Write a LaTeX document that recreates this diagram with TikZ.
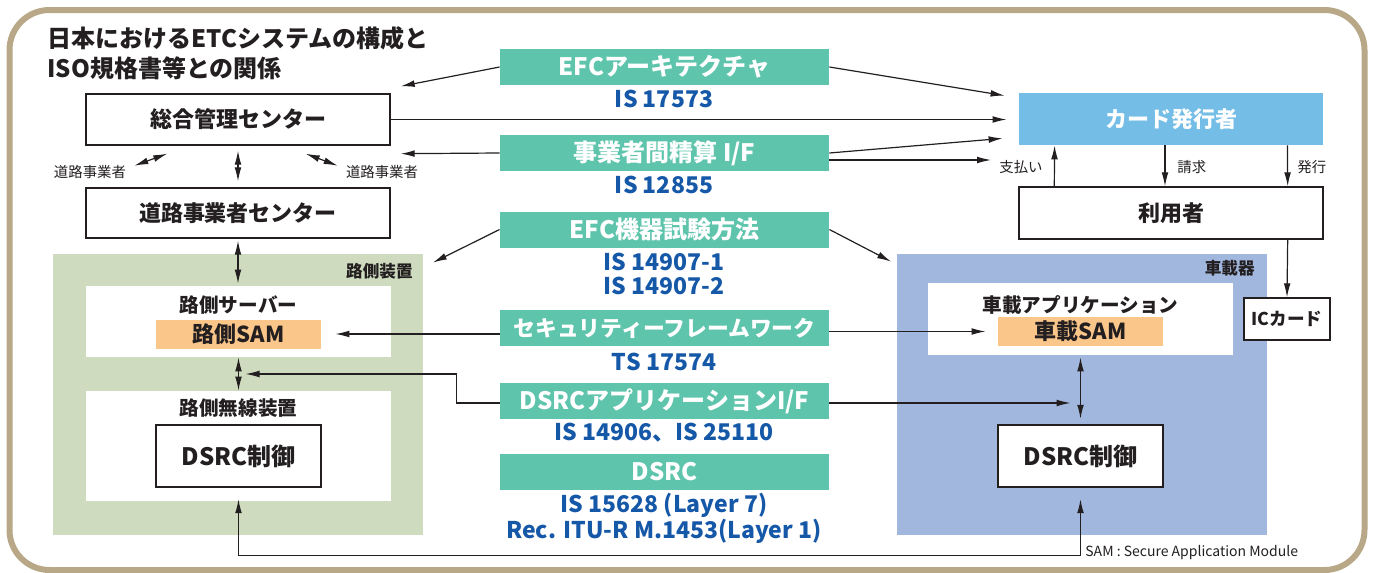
\documentclass[tikz,border=0pt]{standalone}
\usepackage{fontspec}
\usepackage{xcolor}
\usepackage{tikz}
\usetikzlibrary{arrows.meta,calc}
\setmainfont{Noto Sans CJK JP}

\definecolor{frametan}{RGB}{184,168,136}
\definecolor{stdgreen}{RGB}{94,196,172}
\definecolor{stdblue}{RGB}{22,88,168}
\definecolor{issuerblue}{RGB}{116,189,230}
\definecolor{roadgreen}{RGB}{206,219,190}
\definecolor{carblue}{RGB}{162,183,222}
\definecolor{samorange}{RGB}{251,198,138}
\definecolor{ink}{RGB}{35,31,32}

\tikzset{
  arr/.style={-{Latex[length=7pt,width=3.4pt]},line width=0.6pt,draw=ink},
  arrboth/.style={{Latex[length=7pt,width=3.4pt]}-{Latex[length=7pt,width=3.4pt]},line width=0.6pt,draw=ink},
  mainbox/.style={draw=ink,line width=0.7pt,fill=white,inner sep=0pt,text=ink,font=\bfseries\fontsize{11}{13}\selectfont},
  areabox/.style={inner sep=0pt,minimum width=185pt,minimum height=140.5pt},
  innerbox/.style={fill=white,inner sep=0pt,minimum width=152.5pt},
  sambox/.style={fill=samorange,inner sep=0pt,minimum width=82.5pt,minimum height=14.5pt,text=ink,font=\bfseries\fontsize{11}{13}\selectfont},
  dsrcbox/.style={draw=ink,line width=1.2pt,fill=white,inner sep=0pt,minimum width=82.5pt,minimum height=31pt,text=ink,font=\bfseries\fontsize{12}{14}\selectfont},
  stdbox/.style={fill=stdgreen,inner sep=0pt,minimum width=164.5pt,minimum height=18pt,text=white,font=\bfseries\fontsize{12}{14}\selectfont},
  stdtext/.style={text=stdblue,align=center,inner sep=0pt,font=\bfseries\fontsize{11.5}{12}\selectfont},
  boxlab/.style={inner sep=0pt,text=ink,font=\bfseries\fontsize{9.8}{12}\selectfont},
  arealab/.style={inner sep=0pt,text=ink,font=\bfseries\fontsize{8.3}{10}\selectfont},
  smalllab/.style={inner sep=0pt,text=ink,font=\fontsize{7.2}{9}\selectfont}
}

\begin{document}
\begin{tikzpicture}[x=0.5pt,y=0.5pt,yscale=-1,xscale=1]

\useasboundingbox (0,0) rectangle (1373,573);

\draw[frametan,line width=3pt,rounded corners=20pt] (9.5,10) rectangle (1364.5,570);

\node (title) [anchor=west,align=left,inner sep=0pt,text=ink,font=\bfseries\fontsize{12}{15}\selectfont] at (47,53) {日本におけるETCシステムの構成と\\ISO規格書等との関係};

\node (sogo) [mainbox,minimum width=152pt,minimum height=25.5pt] at (238,119.5) {総合管理センター};

\node (doro) [mainbox,minimum width=152pt,minimum height=25pt] at (238,213) {道路事業者センター};

\node (opleft) [smalllab] at (90,172) {道路事業者};

\node (opright) [smalllab] at (382,172) {道路事業者};

\node (roadside) [areabox,fill=roadgreen] at (237.5,394.5) {};

\node (roadsidelab) [arealab,anchor=east] at (413,271) {路側装置};

\node (server) [innerbox,minimum height=35.5pt] at (238.5,321.5) {};

\node (serverlab) [boxlab] at (238.5,305) {路側サーバー};

\node (rsam) [sambox] at (238.5,334) {路側SAM};

\node (radio) [innerbox,minimum height=55pt] at (238.5,446) {};

\node (radiolab) [boxlab] at (238.5,408) {路側無線装置};

\node (rdsrc) [dsrcbox] at (238.5,456) {DSRC制御};

\node (efcarch) [stdbox] at (664.5,67) {EFCアーキテクチャ};

\node (is17573) [stdtext] at (664,99) {IS 17573};

\node (settle) [stdbox] at (664.5,153) {事業者間精算 I/F};

\node (is12855) [stdtext] at (664,185) {IS 12855};

\node (testing) [stdbox] at (664.5,229.5) {EFC機器試験方法};

\node (is14907) [stdtext] at (664,274) {IS 14907-1\\IS 14907-2};

\node (security) [stdbox,font=\bfseries\fontsize{10.9}{13}\selectfont] at (664.5,328) {セキュリティーフレームワーク};

\node (ts17574) [stdtext] at (664,362) {TS 17574};

\node (dsrcapp) [stdbox] at (664.5,401) {DSRCアプリケーションI/F};

\node (is14906) [stdtext] at (664,433) {IS 14906、IS 25110};

\node (dsrcstd) [stdbox] at (664.5,472) {DSRC};

\node (is15628) [stdtext] at (664,518.5) {IS 15628 (Layer 7)\\Rec. ITU-R M.1453(Layer 1)};

\node (issuer) [fill=issuerblue,inner sep=0pt,minimum width=152pt,minimum height=26pt,text=white,font=\bfseries\fontsize{11}{13}\selectfont] at (1171,119) {カード発行者};

\node (user) [mainbox,minimum width=152pt,minimum height=26pt] at (1171,213) {利用者};

\node (paylab) [smalllab,anchor=east] at (1043,167) {支払い};

\node (billlab) [smalllab,anchor=west] at (1177,167) {請求};

\node (issuelab) [smalllab,anchor=west] at (1297,167) {発行};

\node (onboard) [areabox,fill=carblue] at (1081.5,394.5) {};

\node (onboardlab) [arealab,anchor=east] at (1255,268) {車載器};

\node (iccard) [mainbox,minimum width=43pt,minimum height=21pt,font=\bfseries\fontsize{8.8}{10}\selectfont] at (1287,319) {ICカード};

\node (vapp) [innerbox,minimum height=36pt] at (1080.5,319) {};

\node (vapplab) [boxlab] at (1080.5,305) {車載アプリケーション};

\node (vsam) [sambox] at (1080.5,331.5) {車載SAM};

\node (vdsrc) [dsrcbox] at (1080.5,456) {DSRC制御};

\node (samnote) [anchor=west,inner sep=0pt,text=ink,font=\fontsize{7}{8}\selectfont] at (1085,553) {SAM : Secure Application Module};

\draw[arrboth,shorten <=2.5pt,shorten >=3pt] (sogo.south) -- (doro.north);

\draw[arrboth] ($(sogo.south west)+(82,8)$) -- ($(sogo.south west)+(49,20)$);

\draw[arrboth] ($(sogo.south east)+(-85,8)$) -- ($(sogo.south east)+(-53,20)$);

\draw[arrboth,shorten <=1pt,shorten >=1pt] (doro.south) -- (doro.south |- server.north);

\draw[arrboth] (server.south) -- (radio.north);

\draw[arrboth,shorten <=1pt,shorten >=2.5pt] (vapp.south) -- (vdsrc.north);

\draw[arr] (efcarch.west) -- ($(sogo.north east)+(10,-7)$);

\draw[arr] (efcarch.east) -- ($(issuer.north west)+(-14,3)$);

\draw[arr,shorten >=6pt] (sogo.east) -- (sogo.east -| issuer.west);

\draw[arr] (settle.west) -- ($(sogo.south east)+(10,8)$);

\draw[arr] (settle.east) -- ($(issuer.south west)+(-16,-7)$);

\draw[arr] ($(settle.east)+(0,7)$) coordinate (settlelow) -- ($(settlelow -| paylab.west)+(-8,0)$);

\draw[arr] (testing.west) -- ($(roadside.north east)+(10,9)$);

\draw[arr] (testing.east) -- ($(onboard.north west)+(-5,8)$);

\draw[arr] (security.west |- rsam.east) -- ($(rsam.east)+(14,0)$);

\draw[arr] (security.east |- vsam.west) -- ($(vsam.west)+(-12,0)$);

\coordinate (rjoin) at ($(server.south)!0.5!(radio.north)$);

\draw[arr] ($(dsrcapp.west)+(0,2)$) -- ++(-43,0) |- ($(rjoin)+(7,0)$);

\draw[arr] ($(dsrcapp.east)+(0,2)$) coordinate (appright) -- ($(appright -| vdsrc.north)+(-10,0)$);

\draw[arrboth] ($(rdsrc.south)+(0,11)$) -- ++(0,56) -| ($(vdsrc.south)+(0,11)$);

\draw[arr] ($(user.north west)+(36,0)$) -- ($(issuer.south west)+(36,0)$);

\draw[arr] ($(issuer.south)+(-6,0)$) -- ($(user.north)+(-6,0)$);

\draw[arr] ($(issuer.south east)+(-36,0)$) -- ($(user.north east)+(-36,0)$);

\draw[arr] ($(user.south east)+(-36,0)$) -- (iccard.north);

\end{tikzpicture}
\end{document}
